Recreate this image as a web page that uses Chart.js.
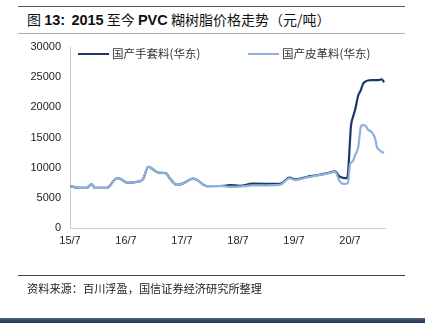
<!DOCTYPE html>
<html>
<head>
<meta charset="utf-8">
<script src="https://cdn.jsdelivr.net/npm/chart.js@4/dist/chart.umd.min.js"></script>
<style>
  html, body { margin: 0; padding: 0; background: #fff; }
  #page { position: relative; width: 425px; height: 323px; overflow: hidden; background: #fff; }
  .rule { position: absolute; left: 18px; width: 387px; height: 1px; }
  #title { position: absolute; left: 27px; top: 9px; font: 14px "Noto Sans CJK SC", sans-serif; color: #111; white-space: nowrap; }
  #title b { font: bold 14.5px "Liberation Sans", Arial, sans-serif; }
  #source { position: absolute; left: 27px; top: 280px; font: 11.2px "Noto Sans CJK SC", sans-serif; color: #222; white-space: nowrap; }
  #bar { position: absolute; left: 0; top: 318px; width: 425px; height: 5px; background: linear-gradient(#4a5f78, #23364f); }
  #chart { position: absolute; left: 0; top: 0; }
</style>
</head>
<body>
<div id="page">
  <div class="rule" style="top:6px;background:#555;"></div>
  <div id="title">图 <b>13:</b>&nbsp; <b>2015</b> 至今 <b>PVC</b> 糊树脂价格走势（元/吨）</div>
  <div class="rule" style="top:33px;background:#b0b0b0;"></div>
  <canvas id="chart" width="425" height="323"></canvas>
  <div class="rule" style="top:275px;background:#444;"></div>
  <div id="source">资料来源：百川浮盈，国信证券经济研究所整理</div>
  <div id="bar"></div>
</div>
<script>
// Observation dates (yyyy-mm-dd)
const dates = [
  '2015-07-01','2015-08-15','2015-10-20','2015-11-20','2015-12-12','2016-02-28',
  '2016-04-20','2016-05-12','2016-07-12','2016-09-20','2016-10-20','2016-11-25',
  '2016-12-15','2017-01-28','2017-03-20','2017-04-12','2017-05-28','2017-07-10',
  '2017-09-12','2017-10-03','2017-12-10','2018-03-25','2018-05-10','2018-07-12',
  '2018-10-05','2019-04-01','2019-06-03','2019-07-06','2019-09-20','2019-11-28',
  '2020-02-01','2020-03-28','2020-04-20','2020-05-18','2020-06-10','2020-06-18',
  '2020-07-01','2020-07-07','2020-07-22','2020-08-03','2020-08-25','2020-09-10',
  '2020-09-25','2020-10-12','2020-10-28','2020-11-18','2020-12-12','2020-12-25',
  '2021-01-12','2021-01-25','2021-02-10'
];
// 国产手套料(华东), 元/吨
const gloveGrade = [
  6950, 6700, 6650, 7250, 6650, 6650,
  8050, 8250, 7500, 7700, 8050, 10150,
  9900, 9200, 9050, 8250, 7150, 7400,
  8200, 8050, 6950, 7000, 7100, 7000,
  7350, 7300, 8350, 8050, 8450, 8750,
  9050, 9400, 8600, 8300, 8250, 9000,
  14500, 16800, 18500, 19500, 22000, 22800,
  23900, 24300, 24450, 24500, 24500, 24500,
  24550, 24650, 24150
];
// 国产皮革料(华东), 元/吨
const leatherGrade = [
  6950, 6700, 6650, 7250, 6650, 6650,
  8050, 8250, 7500, 7700, 8050, 10150,
  9900, 9200, 9050, 8250, 7150, 7400,
  8200, 8050, 6950, 6950, 6800, 6850,
  7050, 7150, 8250, 7950, 8350, 8700,
  9000, 9300, 7950, 7300, 7350, 7500,
  10500, 10800, 11200, 12000, 13400, 16700,
  17100, 16900, 16300, 15950, 14900, 13400,
  12900, 12600, 12500
];
const seriesNames = ['国产手套料(华东)', '国产皮革料(华东)'];
const xTickLabels = ['15/7', '16/7', '17/7', '18/7', '19/7', '20/7'];
const yTicks = [0, 5000, 10000, 15000, 20000, 25000, 30000];

// months elapsed since 2015-07
function monthsSince(d) {
  const [y, m, day] = d.split('-').map(Number);
  const dim = new Date(y, m, 0).getDate();
  return (y - 2015) * 12 + (m - 7) + (day - 1) / dim;
}
const xs = dates.map(monthsSince);
const toPoints = vals => vals.map((v, i) => ({ x: xs[i], y: v }));

const colors = ['#1b3868', '#8fb2da'];

// legend drawn inside the plot area
const innerLegend = {
  id: 'innerLegend',
  afterDraw(chart) {
    const ctx = chart.ctx;
    const area = chart.chartArea;
    const starts = [area.left + 8, area.left + 178];
    ctx.save();
    ctx.font = '11.5px "Noto Sans CJK SC", sans-serif';
    ctx.textBaseline = 'middle';
    chart.data.datasets.forEach((ds, i) => {
      const x0 = starts[i], y0 = area.top + 7;
      ctx.strokeStyle = ds.borderColor;
      ctx.lineWidth = 2;
      ctx.beginPath();
      ctx.moveTo(x0, y0);
      ctx.lineTo(x0 + 31, y0);
      ctx.stroke();
      ctx.fillStyle = '#333';
      ctx.fillText(ds.label, x0 + 34, y0);
    });
    ctx.restore();
  }
};

new Chart(document.getElementById('chart'), {
  type: 'line',
  data: {
    datasets: [
      { label: seriesNames[0], data: toPoints(gloveGrade), borderColor: colors[0], borderWidth: 2.2, pointRadius: 0, cubicInterpolationMode: 'monotone', order: 1 },
      { label: seriesNames[1], data: toPoints(leatherGrade), borderColor: colors[1], borderWidth: 2.2, pointRadius: 0, cubicInterpolationMode: 'monotone', order: 0 }
    ]
  },
  options: {
    responsive: false,
    animation: false,
    layout: { padding: { top: 47, right: 40, left: 0, bottom: 0 } },
    plugins: { legend: { display: false }, tooltip: { enabled: false } },
    scales: {
      x: {
        type: 'linear',
        min: 0,
        max: 67.5,
        afterBuildTicks(scale) { scale.ticks = xTickLabels.map((_, i) => ({ value: i * 12 })); },
        afterFit(scale) { scale.height = 95; },
        grid: { display: false, drawOnChartArea: false, drawTicks: true, tickLength: 4, tickColor: '#bbb' },
        border: { color: '#ccc', width: 1 },
        ticks: {
          autoSkip: false, maxRotation: 0, padding: 2, color: '#222',
          font: { family: '"Liberation Sans", Arial, sans-serif', size: 11 },
          callback: (v) => xTickLabels[Math.round(v / 12)]
        }
      },
      y: {
        min: 0,
        max: 30000,
        afterBuildTicks(scale) { scale.ticks = yTicks.map(v => ({ value: v })); },
        afterFit(scale) { scale.width = 70; },
        grid: { display: false, drawTicks: false },
        border: { color: '#ccc', width: 1 },
        ticks: {
          padding: 9, color: '#222',
          font: { family: '"Liberation Sans", Arial, sans-serif', size: 11 },
          callback: (v) => String(v)
        }
      }
    }
  },
  plugins: [innerLegend]
});
</script>
</body>
</html>
